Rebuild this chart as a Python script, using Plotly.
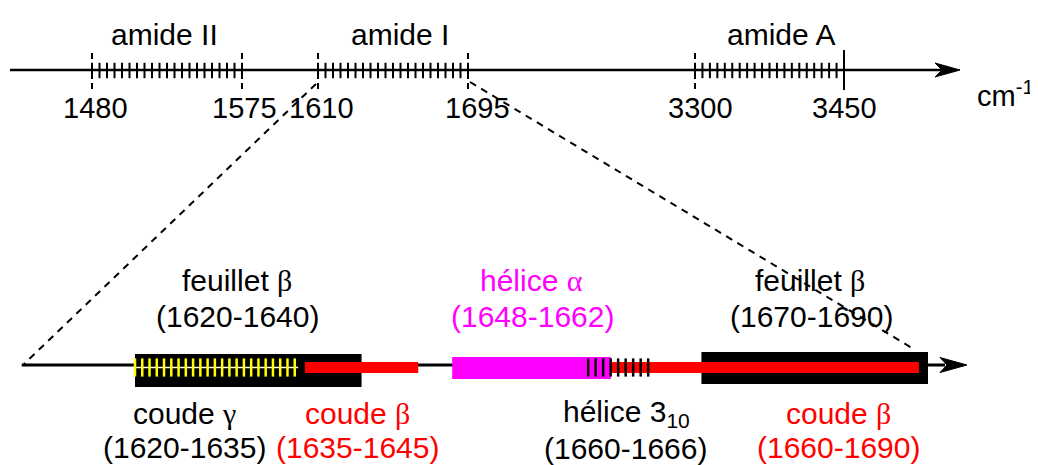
import numpy as np
import plotly.graph_objects as go

W, H = 1038, 465
OFF = 8  # default page body margin
FW, FH = W - OFF, H - OFF

# ---------------- data ----------------
# top axis: IR bands (cm-1)
band_names = ["amide II", "amide I", "amide A"]
band_lo = [1480, 1610, 3300]
band_hi = [1575, 1695, 3450]
top_tick_labels = ["1480", "1575", "1610", "1695", "3300", "3450"]

# bottom (amide I zoom): secondary structures (cm-1)
feuillet_ranges = [(1620, 1640), (1670, 1690)]
helice_alpha = (1648, 1662)
coude_beta_ranges = [(1635, 1645), (1660, 1690)]
coude_gamma = (1620, 1635)
helice_310 = (1660, 1666)
bottom_axis_start = 1610

# ---------------- layout helpers (pixel anchors on the page) ----------------
band_px = [(92, 242), (318, 468), (695, 844)]
top_y = 70
bot_y = 365
# bottom scale: 1620 -> 135 px, 1690 -> 928 px
bk = (928 - 135) / (1690 - 1620)
bot_range = [1620 - (135 - OFF) / bk, 1620 + (W - 135) / bk]


def px_to_bot(px):
    return 1620 + (px - 135) / bk


FONT = "Liberation Sans, Arial, sans-serif"
FS = 30
FS_TICK = 29
GREEK = "Liberation Serif, Times New Roman, serif"


def g(ch):
    return f'<span style="font-family:{GREEK}">{ch}</span>'


fig = go.Figure()
layout_axes = {}
layout_axes["xaxis"] = dict(range=[OFF, W], domain=[0, 1], visible=False, fixedrange=True)
layout_axes["xaxis2"] = dict(range=bot_range, domain=[0, 1], visible=False, anchor="y", fixedrange=True)
pad = 14
for i, ((lo, hi), (p0, p1)) in enumerate(zip(zip(band_lo, band_hi), band_px)):
    k = (hi - lo) / (p1 - p0)
    layout_axes[f"xaxis{i + 3}"] = dict(
        domain=[(p0 - pad - OFF) / FW, (p1 + pad - OFF) / FW],
        range=[lo - pad * k, hi + pad * k],
        visible=False, anchor="y", fixedrange=True)

# ---------- top main axis line (pixel axis) ----------
fig.add_trace(go.Scatter(x=[10, 942], y=[top_y, top_y], xaxis="x", yaxis="y", mode="lines",
                         hoverinfo="skip", line=dict(color="black", width=2.5)))

# ---------- bottom axis & bars (wavenumber axis x2, drawn in order) ----------
fig.add_trace(go.Scatter(x=[bottom_axis_start, px_to_bot(945)], y=[bot_y, bot_y], xaxis="x2", yaxis="y",
                         mode="lines", hoverinfo="skip", line=dict(color="black", width=3)))


def rect(a, b, y0, y1, color):
    fig.add_trace(go.Scatter(x=[a, b, b, a, a], y=[y0, y0, y1, y1, y0], xaxis="x2", yaxis="y",
                             mode="lines", fill="toself", fillcolor=color, hoverinfo="skip",
                             line=dict(width=0, color=color)))


for (a, b), (y0, y1) in zip(feuillet_ranges, [(354, 387), (352, 384)]):
    rect(a, b, y0, y1, "black")
rect(coude_beta_ranges[0][0], coude_beta_ranges[0][1], 362, 373, "#FF0000")
rect(coude_beta_ranges[1][0], coude_beta_ranges[1][1] - 0.8, 362, 373, "#FF0000")
rect(helice_alpha[0], helice_alpha[1], 357, 379, "#FF00FF")

# yellow ticks (coude gamma) with white center line
fig.add_trace(go.Scatter(x=[coude_gamma[0], coude_gamma[1] - 0.6], y=[367.5, 367.5], xaxis="x2", yaxis="y",
                         mode="lines", hoverinfo="skip", line=dict(color="white", width=1.5)))
gx = np.linspace(coude_gamma[0], coude_gamma[1] - 0.9, 23)
fig.add_trace(go.Scatter(x=gx, y=[367.5] * len(gx), xaxis="x2", yaxis="y", mode="markers",
                         hoverinfo="skip", cliponaxis=False,
                         marker=dict(symbol="line-ns-open", size=13, color="#FFFF00",
                                     line=dict(color="#FFFF00", width=2.5))))
# black ticks (helix 3-10)
hx = np.linspace(helice_310[0], helice_310[1] - 0.7, 9)
fig.add_trace(go.Scatter(x=hx, y=[367.5] * len(hx), xaxis="x2", yaxis="y", mode="markers",
                         hoverinfo="skip", cliponaxis=False,
                         marker=dict(symbol="line-ns-open", size=13, color="black",
                                     line=dict(color="black", width=2.5))))

# ---------- top axis ticks ----------
for i, (lo, hi) in enumerate(zip(band_lo, band_hi)):
    xa = f"x{i + 3}"
    ticks = np.linspace(lo, hi, 21)
    fig.add_trace(go.Scatter(x=ticks, y=[top_y + 0.5] * len(ticks), xaxis=xa, yaxis="y",
                             mode="markers", cliponaxis=False, hoverinfo="skip",
                             marker=dict(symbol="line-ns-open", size=11, color="black",
                                         line=dict(color="black", width=2))))
    fig.add_trace(go.Scatter(x=[lo, lo], y=[53, 89], xaxis=xa, yaxis="y", mode="lines",
                             hoverinfo="skip", line=dict(color="black", width=2, dash="6px,4px")))
    if i == 2:
        fig.add_trace(go.Scatter(x=[hi, hi], y=[50, 90], xaxis=xa, yaxis="y", mode="lines",
                                 hoverinfo="skip", line=dict(color="black", width=2)))
    else:
        fig.add_trace(go.Scatter(x=[hi, hi], y=[53, 89], xaxis=xa, yaxis="y", mode="lines",
                                 hoverinfo="skip", line=dict(color="black", width=2, dash="6px,4px")))

shapes = []
shapes.append(dict(type="path", xref="x", yref="y",
                   path=f"M 960,{top_y} L 935,{top_y-7} L 942,{top_y} L 935,{top_y+7} Z",
                   fillcolor="black", line=dict(color="black", width=1)))
shapes.append(dict(type="path", xref="x", yref="y",
                   path=f"M 967,{bot_y} L 940,{bot_y-7.5} L 947,{bot_y} L 940,{bot_y+7.5} Z",
                   fillcolor="black", line=dict(color="black", width=1)))
shapes.append(dict(type="line", xref="x", yref="y", x0=316, y0=84, x1=24, y1=364,
                   line=dict(color="black", width=2, dash="7px,6px")))
shapes.append(dict(type="line", xref="x", yref="y", x0=470, y0=82, x1=912, y1=348,
                   line=dict(color="black", width=2, dash="7px,6px")))

annotations = []
band_name_px = [164, 400, 781]
for name, px in zip(band_names, band_name_px):
    annotations.append(dict(x=px, y=34, xref="x", yref="y", text=name, showarrow=False,
                            font=dict(size=FS, color="black", family=FONT)))
tick_vals = [band_lo[0], band_hi[0], band_lo[1], band_hi[1], band_lo[2], band_hi[2]]
tick_axes = ["x3", "x3", "x4", "x4", "x5", "x5"]
tick_shift = [3, 2, 4, 10, 5, 0]
for lab, v, xa, sh in zip(top_tick_labels, tick_vals, tick_axes, tick_shift):
    annotations.append(dict(x=v, y=108, xref=xa, yref="y", text=lab, showarrow=False, xshift=sh,
                            font=dict(size=FS_TICK, color="black", family=FONT)))
annotations.append(dict(x=1036, y=94, xref="x", yref="y", xanchor="right", text="cm<sup>-1</sup>",
                        showarrow=False, font=dict(size=FS_TICK, color="black", family=FONT)))

RED, MAG = "#FF0000", "#FF00FF"
labels = [
    (237, 280, f"feuillet {g('β')}", "black"),
    (237, 316, "(1620-1640)", "black"),
    (531, 280, f"hélice {g('α')}", MAG),
    (532, 316, "(1648-1662)", MAG),
    (810, 280, f"feuillet {g('β')}", "black"),
    (811, 316, "(1670-1690)", "black"),
    (184, 413, f"coude {g('γ')}", "black"),
    (184, 447, "(1620-1635)", "black"),
    (357, 413, f"coude {g('β')}", RED),
    (357, 447, "(1635-1645)", RED),
    (626, 413, "hélice 3<sub>10</sub>", "black"),
    (625, 448, "(1660-1666)", "black"),
    (838, 413, f"coude {g('β')}", RED),
    (838, 447, "(1660-1690)", RED),
]
for x, y, t, c in labels:
    annotations.append(dict(x=x, y=y, xref="x", yref="y", text=t, showarrow=False,
                            font=dict(size=FS, color=c, family=FONT)))

fig.update_layout(
    width=FW, height=FH, margin=dict(l=0, r=0, t=0, b=0),
    paper_bgcolor="white", plot_bgcolor="rgba(0,0,0,0)", showlegend=False,
    yaxis=dict(range=[H, OFF], domain=[0, 1], visible=False, fixedrange=True),
    shapes=shapes,
    annotations=annotations,
    **layout_axes,
)
fig.write_html("out.html")
